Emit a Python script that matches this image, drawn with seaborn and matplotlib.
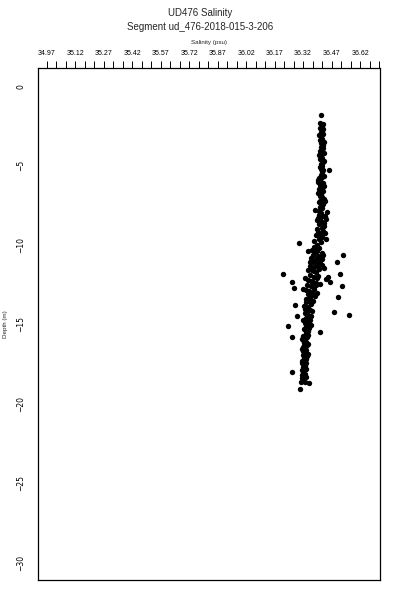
import matplotlib
matplotlib.use('Agg')
import matplotlib.pyplot as plt
import seaborn as sns
import numpy as np

# depth (m) and salinity (psu) from top to bottom
depth_m = [
    -1.8, -2.3, -2.5, -2.6, -2.8, -2.9, -3.0, -3.2, -3.3, -3.4, -3.6, -3.7, -3.8, -4.0, -4.1, -4.2, -4.4,
    -4.5, -4.6, -4.8, -4.9, -5.0, -5.2, -5.3, -5.4,
    -2.4, -2.7, -3.1, -3.5, -3.9, -4.3, -4.7, -5.1, -5.3,
    -5.6, -5.7, -5.8, -6.0, -6.1, -6.2, -6.4, -6.5, -6.6, -6.8, -6.9, -7.0, -7.2, -7.3, -7.4, -7.6, -7.7,
    -7.8, -7.9, -8.0,
    -5.65, -5.9, -6.3, -6.7, -7.1, -7.5, -7.85,
    -6.05, -7.25, -8.35, -9.25, -9.6,
    -8.1, -8.2, -8.3, -8.5, -8.6, -8.7, -8.9, -9.0, -9.1, -9.3, -9.4, -9.5, -9.6, -9.8, -9.9, -10.0,
    -8.15, -8.45, -8.8, -9.15, -9.45, -9.75,
    -10.1, -10.2, -10.3, -10.4, -10.5, -10.6, -10.6, -10.7, -10.8, -10.9, -11.0, -11.1, -11.1, -11.2,
    -11.3, -11.4, -11.5, -11.6, -11.7, -11.8, -11.8, -11.9, -12.0, -12.1, -12.2, -12.3, -12.3, -12.4,
    -12.5, -12.6, -12.6, -12.7, -12.8, -12.9, -13.0, -13.1, -13.2, -13.3, -13.3, -13.4,
    -10.15, -10.45, -10.75, -11.05, -11.35, -11.65, -11.95, -12.25, -12.55, -12.85, -13.15, -13.45,
    -12.3, -10.9, -12.0,
    -10.35, -10.65, -11.25, -11.55, -12.05, -12.45, -12.75, -13.05, -11.45, -12.15,
    -13.5, -13.6, -13.7, -13.8, -13.9, -14.0, -14.1, -14.2, -14.2, -14.3, -14.4, -14.5, -14.5, -14.6,
    -14.7, -14.8, -14.9, -15.0, -15.1, -15.1, -15.2, -15.3, -15.4, -15.5, -15.5, -15.8,
    -13.55, -13.85, -14.15, -14.45, -14.75, -15.05, -15.35,
    -15.6, -15.7, -15.8, -15.9, -16.0, -16.1, -16.2, -16.3, -16.4, -16.5, -16.6, -16.7, -16.8, -16.9,
    -17.0, -17.1, -17.2, -17.3, -17.4, -17.5, -17.6, -17.7, -17.8, -17.9, -18.0, -18.1, -18.2, -18.3,
    -18.4, -18.6,
    -15.65, -15.95, -16.25, -16.55, -16.85, -17.15, -17.45, -17.75, -18.05, -18.35,
    -18.6, -18.7, -19.1, -18.4,
]
salinity_psu = [
    36.413, 36.411, 36.418, 36.409, 36.420, 36.414, 36.424, 36.412, 36.421, 36.408, 36.417, 36.426, 36.413,
    36.419, 36.410, 36.428, 36.415, 36.422, 36.411, 36.425, 36.416, 36.420, 36.413, 36.427, 36.418,
    36.425, 36.427, 36.405, 36.430, 36.427, 36.406, 36.430, 36.408, 36.456,
    36.412, 36.421, 36.406, 36.417, 36.426, 36.410, 36.419, 36.404, 36.423, 36.413, 36.407, 36.420, 36.411,
    36.402, 36.425, 36.409, 36.418, 36.385, 36.446, 36.414,
    36.428, 36.400, 36.430, 36.398, 36.428, 36.420, 36.403,
    36.397, 36.433, 36.440, 36.438, 36.440,
    36.405, 36.420, 36.397, 36.415, 36.430, 36.402, 36.418, 36.395, 36.426, 36.410, 36.388, 36.420, 36.402,
    36.415, 36.300, 36.392,
    36.435, 36.392, 36.428, 36.400, 36.412, 36.380,
    36.380, 36.405, 36.365, 36.392, 36.420, 36.374, 36.530, 36.398, 36.362, 36.386, 36.410, 36.370, 36.500,
    36.392, 36.355, 36.378, 36.402, 36.366, 36.388, 36.215, 36.515, 36.358, 36.375, 36.395, 36.348, 36.463,
    36.372, 36.386, 36.340, 36.525, 36.362, 36.273, 36.378, 36.350, 36.368, 36.345, 36.385, 36.505, 36.356,
    36.338,
    36.395, 36.385, 36.415, 36.355, 36.400, 36.380, 36.400, 36.360, 36.390, 36.335, 36.370, 36.355,
    36.263, 36.420, 36.450,
    36.345, 36.425, 36.420, 36.345, 36.330, 36.410, 36.320, 36.395, 36.430, 36.440,
    36.350, 36.336, 36.362, 36.280, 36.345, 36.330, 36.355, 36.483, 36.340, 36.328, 36.562, 36.290, 36.350,
    36.335, 36.358, 36.342, 36.330, 36.348, 36.240, 36.336, 36.352, 36.327, 36.345, 36.410, 36.333, 36.263,
    36.370, 36.325, 36.368, 36.360, 36.322, 36.360, 36.338,
    36.335, 36.322, 36.340, 36.328, 36.318, 36.335, 36.325, 36.342, 36.320, 36.330, 36.338, 36.322, 36.333,
    36.318, 36.340, 36.326, 36.332, 36.316, 36.335, 36.323, 36.330, 36.320, 36.338, 36.315, 36.263, 36.328,
    36.312, 36.335, 36.320, 36.330,
    36.345, 36.312, 36.348, 36.315, 36.345, 36.338, 36.312, 36.332, 36.322, 36.312,
    36.310, 36.352, 36.305, 36.318,
]

x_ticks = np.round(np.arange(34.97, 36.7201, 0.05), 2)
x_ticklabels = [f'{v:.2f}' if i % 3 == 0 else '' for i, v in enumerate(x_ticks)]
y_ticks = [0, -5, -10, -15, -20, -25, -30]

sns.set_theme(style='white')
plt.rcParams['font.family'] = ['Liberation Sans', 'DejaVu Sans']

fig = plt.figure(figsize=(4, 6), dpi=100)
ax = fig.add_axes([0.095, 0.0333, 0.855, 0.8534])

sns.scatterplot(x=salinity_psu, y=depth_m, ax=ax, color='black', s=15,
                linewidth=0, marker='o')

ax.set_xlim(34.925, 36.725)
ax.set_ylim(-31.1, 1.15)

ax.xaxis.tick_top()
ax.xaxis.set_label_position('top')
ax.set_xticks(x_ticks)
ax.set_xticklabels(x_ticklabels, fontsize=5)
ax.set_yticks(y_ticks)
# DejaVu has a wider minus glyph, so the sign stays visible at this size
ax.set_yticklabels([str(v).replace('-', '\u2212') for v in y_ticks], fontsize=5.5,
                   rotation=90, va='center', family='DejaVu Sans')
ax.tick_params(axis='x', direction='out', length=5, width=0.7, pad=3, colors='black')
ax.tick_params(axis='y', direction='out', length=4, width=0.7, pad=5, colors='black')
ax.set_xlabel('Salinity (psu)', fontsize=4.5, labelpad=4)
ax.set_ylabel('Depth (m)', fontsize=4.5, labelpad=6)

for sp in ax.spines.values():
    sp.set_color('black')
    sp.set_linewidth(0.9)

fig.text(0.5, 0.978, 'UD476 Salinity', ha='center', va='center', fontsize=7)
fig.text(0.5, 0.955, 'Segment ud_476-2018-015-3-206', ha='center', va='center', fontsize=7)

fig.savefig('out.png', dpi=100)
plt.close(fig)
